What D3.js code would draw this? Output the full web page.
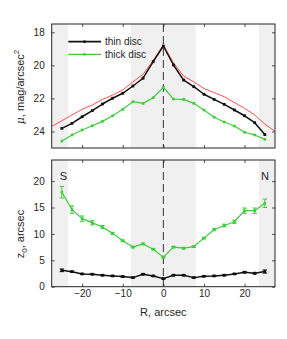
<!DOCTYPE html>
<html>
<head>
<meta charset="utf-8">
<script src="https://cdn.jsdelivr.net/npm/d3@7"></script>
<style>
  body { margin: 0; background: #fff; }
  svg { display: block; font-family: "Liberation Sans", Arial, sans-serif; }
  .tick text { fill: #262626; font-size: 10px; }
</style>
</head>
<body>
<div id="plot"></div>
<script>
// radius along the disc, arcsec
const radius = [-25, -22.5, -20, -17.5, -15, -12.5, -10, -7.5, -5, -2.5, 0,
    2.5, 5, 7.5, 10, 12.5, 15, 17.5, 20, 22.5, 25];

// surface brightness, mag/arcsec^2
const muThin = [23.81, 23.51, 23.11, 22.74, 22.34, 21.99, 21.69, 21.25, 20.78, 19.78, 18.83,
    19.98, 20.89, 21.29, 21.75, 22.06, 22.36, 22.7, 23.05, 23.47, 24.19];
const muThick = [24.58, 24.21, 23.91, 23.65, 23.39, 23.05, 22.66, 22.2, 22.3, 21.96, 21.33,
    22.04, 22.06, 22.3, 22.7, 23.14, 23.43, 23.67, 24.05, 24.21, 24.48];

// observed profile (red)
const radiusObs = [-27.6, -25, -22.5, -20, -17.5, -15, -12.5, -10, -7.5, -5, -2.5, 0,
    2.5, 5, 7.5, 10, 12.5, 15, 17.5, 20, 22.5, 25, 27.5];
const muObs = [23.71, 23.35, 23.0, 22.66, 22.4, 22.06, 21.8, 21.49, 21.0, 20.55, 19.7, 18.77,
    19.85, 20.65, 21.0, 21.4, 21.65, 21.9, 22.25, 22.6, 23.0, 23.55, 24.0];

// scale heights, arcsec
const z0Thin = [3.1, 2.85, 2.42, 2.36, 2.17, 2.04, 1.91, 1.72, 2.36, 2.04, 1.53,
    2.17, 2.17, 1.72, 1.97, 2.04, 2.17, 2.42, 2.74, 2.55, 2.87];
const z0ThinErr = [0.25, 0.12, 0.1, 0.1, 0.1, 0.1, 0.1, 0.1, 0.1, 0.1, 0.1,
    0.1, 0.1, 0.1, 0.1, 0.1, 0.1, 0.1, 0.12, 0.15, 0.3];
const z0Thick = [17.9, 14.6, 12.9, 12.1, 11.3, 10.1, 8.7, 7.5, 8.1, 7.1, 5.6,
    7.5, 7.3, 7.6, 9.2, 10.8, 11.6, 12.3, 14.4, 14.4, 15.8];
const z0ThickErr = [1.1, 0.7, 0.5, 0.4, 0.3, 0.2, 0.15, 0.15, 0.15, 0.15, 0.15,
    0.15, 0.15, 0.15, 0.15, 0.2, 0.25, 0.3, 0.5, 0.5, 0.8];

// shaded zones
const zones = [[-27.5, -23.5], [-8, 8], [23.5, 27.5]];

const xTicks = [-20, -10, 0, 10, 20];
const muTicks = [18, 20, 22, 24];
const z0Ticks = [0, 5, 10, 15, 20];

const width = 287, height = 339;
const left = 51.7, right = 275;
const ink = '#262626';
const green = '#3ccc3c';

const svg = d3.select('#plot').append('svg')
    .attr('width', width)
    .attr('height', height);

const x = d3.scaleLinear().domain([-27.5, 27.5]).range([left, right]);

function panel(top, bottom, y, ticks) {
    const g = svg.append('g');
    const clipId = 'clip' + Math.round(top);
    svg.append('clipPath').attr('id', clipId)
        .append('rect')
        .attr('x', left).attr('y', top)
        .attr('width', right - left).attr('height', bottom - top);

    g.selectAll('rect.zone').data(zones).enter().append('rect')
        .attr('class', 'zone')
        .attr('x', d => x(d[0]))
        .attr('width', d => x(d[1]) - x(d[0]))
        .attr('y', top)
        .attr('height', bottom - top)
        .attr('fill', '#f0f0f0');

    g.append('line')
        .attr('x1', x(0)).attr('x2', x(0))
        .attr('y1', top).attr('y2', bottom)
        .attr('stroke', '#333')
        .attr('stroke-width', 1)
        .attr('stroke-dasharray', '8,4');

    const axes = [
        d3.axisBottom(x).tickValues(xTicks).tickSizeInner(-3).tickSizeOuter(0),
        d3.axisTop(x).tickValues(xTicks).tickSizeInner(-3).tickSizeOuter(0).tickFormat(''),
        d3.axisLeft(y).tickValues(ticks).tickSizeInner(-3).tickSizeOuter(0).tickPadding(7),
        d3.axisRight(y).tickValues(ticks).tickSizeInner(-3).tickSizeOuter(0).tickFormat('')
    ];
    const pos = ['translate(0,' + bottom + ')', 'translate(0,' + top + ')',
        'translate(' + left + ',0)', 'translate(' + right + ',0)'];
    axes.forEach(function (axis, i) {
        const a = g.append('g').attr('transform', pos[i]).call(axis);
        a.select('.domain').remove();
        a.selectAll('.tick line').attr('stroke', ink).attr('stroke-width', 0.8);
    });
    if (bottom < 200) {
        g.select('g').selectAll('.tick text').remove();
    }
    g.append('rect')
        .attr('x', left).attr('y', top)
        .attr('width', right - left).attr('height', bottom - top)
        .attr('fill', 'none')
        .attr('stroke', ink)
        .attr('stroke-width', 1);
    return { g: g, clip: 'url(#' + clipId + ')' };
}

function series(g, y, xs, ys, color, lw, marker) {
    const line = d3.line().x((d, i) => x(xs[i])).y(d => y(d));
    g.append('path')
        .datum(ys)
        .attr('d', line)
        .attr('fill', 'none')
        .attr('stroke', color)
        .attr('stroke-width', lw)
        .attr('stroke-linejoin', 'round');
    if (marker) {
        g.selectAll(null).data(ys).enter().append('rect')
            .attr('x', (d, i) => x(xs[i]) - marker / 2)
            .attr('y', d => y(d) - marker / 2)
            .attr('width', marker)
            .attr('height', marker)
            .attr('fill', color);
    }
}

function errorBars(g, y, vals, errs, color) {
    const cap = 2.2;
    vals.forEach(function (v, i) {
        const cx = x(radius[i]);
        const y0 = y(v - errs[i]), y1 = y(v + errs[i]);
        g.append('path')
            .attr('d', 'M' + cx + ',' + y0 + 'V' + y1 +
                'M' + (cx - cap) + ',' + y0 + 'H' + (cx + cap) +
                'M' + (cx - cap) + ',' + y1 + 'H' + (cx + cap))
            .attr('stroke', color)
            .attr('stroke-width', 1)
            .attr('fill', 'none');
    });
}

// top panel
const yMu = d3.scaleLinear().domain([17.5, 25]).range([24, 148]);
const p1 = panel(24, 148, yMu, muTicks);
const d1 = p1.g.append('g').attr('clip-path', p1.clip);
series(d1, yMu, radiusObs, muObs, '#ff3c3c', 0.9, 0);
series(d1, yMu, radius, muThick, green, 1.2, 2.6);
series(d1, yMu, radius, muThin, '#111', 1.5, 2.8);

const legend = svg.append('g');
[['thin disc', '#111', 1.8, 41.7], ['thick disc', green, 1.2, 54.3]].forEach(function (d) {
    legend.append('line')
        .attr('x1', 68.3).attr('x2', 101)
        .attr('y1', d[3]).attr('y2', d[3])
        .attr('stroke', d[1]).attr('stroke-width', d[2]);
    legend.append('rect')
        .attr('x', 83.3).attr('y', d[3] - 1.2)
        .attr('width', 2.4).attr('height', 2.4)
        .attr('fill', d[1]);
    legend.append('text')
        .attr('x', 105).attr('y', d[3] + 3.5)
        .attr('font-size', 10)
        .attr('fill', ink)
        .text(d[0]);
});

// bottom panel
const yZ = d3.scaleLinear().domain([0, 24]).range([286.7, 160]);
const p2 = panel(160, 286.7, yZ, z0Ticks);
const d2 = p2.g.append('g').attr('clip-path', p2.clip);
errorBars(d2, yZ, z0Thick, z0ThickErr, green);
series(d2, yZ, radius, z0Thick, green, 1.2, 2.6);
errorBars(d2, yZ, z0Thin, z0ThinErr, '#111');
series(d2, yZ, radius, z0Thin, '#111', 1.5, 2.8);

svg.append('text').attr('x', 63.3).attr('y', 180).attr('text-anchor', 'middle')
    .attr('font-size', 11).attr('fill', ink).text('S');
svg.append('text').attr('x', 265).attr('y', 180).attr('text-anchor', 'middle')
    .attr('font-size', 11).attr('fill', ink).text('N');

// axis labels
svg.append('text')
    .attr('x', x(0)).attr('y', 316)
    .attr('text-anchor', 'middle')
    .attr('font-size', 11)
    .attr('fill', ink)
    .text('R, arcsec');

const muLabel = svg.append('text')
    .attr('transform', 'translate(24,87) rotate(-90)')
    .attr('text-anchor', 'middle')
    .attr('font-size', 11)
    .attr('fill', ink);
muLabel.append('tspan').attr('font-style', 'italic').attr('font-family', 'DejaVu Serif, serif').text('\u03bc');
muLabel.append('tspan').text(', mag/arcsec');
muLabel.append('tspan').attr('dy', -5).attr('font-size', 8).text('2');

const zLabel = svg.append('text')
    .attr('transform', 'translate(24,234) rotate(-90)')
    .attr('text-anchor', 'middle')
    .attr('font-size', 11)
    .attr('fill', ink);
zLabel.append('tspan').text('z');
zLabel.append('tspan').attr('dy', 3).attr('font-size', 8).text('0');
zLabel.append('tspan').attr('dy', -3).text(', arcsec');
</script>
</body>
</html>
